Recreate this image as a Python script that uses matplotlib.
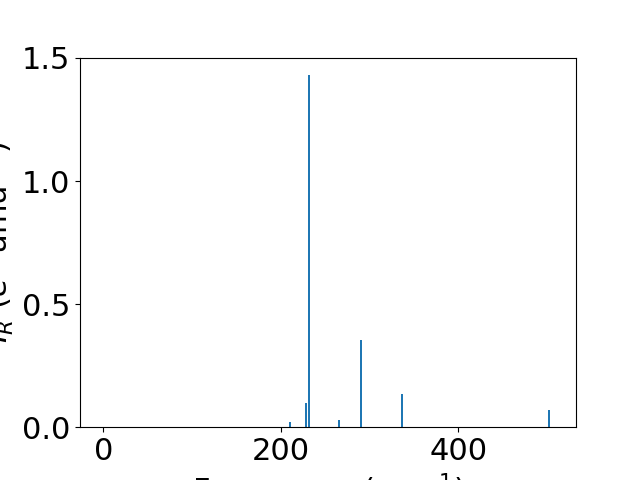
import numpy as np
import matplotlib
matplotlib.use("Agg")
import matplotlib.pyplot as plt

# vibrational modes (cm^-1) and IR intensities
freq = np.array([0.0, 210.0, 228.0, 231.6, 265.4, 290.0, 336.3, 502.0, 506.0])
intens = np.array([0.0, 0.020, 0.100, 1.430, 0.028, 0.354, 0.135, 0.069, 0.0])

plt.rcParams['font.size'] = 22
fig, ax = plt.subplots(figsize=(6.4, 4.8), dpi=100)
ax.bar(freq, intens, width=2.0)
ax.set_xlabel(r'Frequency (cm$^{-1}$)')
ax.set_ylabel(r'$I_R$ ($e^2$ amu$^{-1}$)')
fig.savefig('out.png')
